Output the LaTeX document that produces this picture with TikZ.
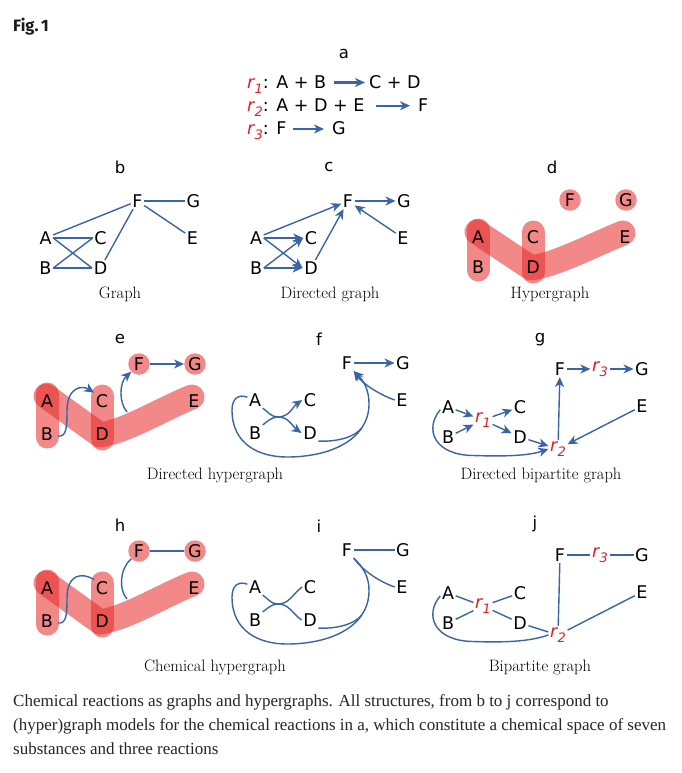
\documentclass[tikz,border=0pt]{standalone}
\usepackage{fontspec}
\usetikzlibrary{arrows.meta}
\newfontfamily\dvf{DejaVu Sans}
\newfontfamily\capf{Liberation Serif}
\newfontfamily\figf{Fira Sans}
\definecolor{eblue}{RGB}{58,100,168}
\definecolor{rred}{RGB}{230,30,35}
\definecolor{hred}{RGB}{232,40,40}
\newcommand\rlab[1]{\textcolor{rred}{\itshape r\kern0.3pt\raisebox{-0.28em}{\fontsize{13}{13}\selectfont #1}}}
\tikzset{
 lbl/.style={font={\dvf\fontsize{17.5}{17.5}\selectfont}, inner sep=1.5pt, text=black},
 rx/.style={font={\dvf\fontsize{17.5}{17.5}\selectfont}, inner sep=0pt, anchor=base west},
 plab/.style={font={\dvf\fontsize{16.5}{17}\selectfont}, inner sep=0pt, anchor=base},
 gcap/.style={font={\fontsize{16.5}{17}\selectfont}, inner sep=0pt, anchor=base},
 ctext/.style={font={\capf\fontsize{17}{17}\selectfont}, inner sep=0pt, anchor=base west, text=black!85},
 edge/.style={draw=eblue, line width=1.4pt},
 arr/.style={edge, -{Stealth[length=10pt,width=9pt,inset=3pt]}},
 rarr/.style={draw=eblue, line width=2.2pt, -{Stealth[length=10pt,width=9pt,inset=3pt]}},
 band/.style={draw=hred, draw opacity=0.55, line width=23pt, line cap=round, line join=round},
 hnode/.style={circle, fill=hred, fill opacity=0.55, text opacity=1, minimum size=21.5pt, inner sep=0pt},
}
\newcommand\stdnodes[3]{%
  \node[lbl] (#1A) at (0,0) {A};
  \node[lbl] (#1B) at (0,#3) {B};
  \node[lbl] (#1C) at (55,0) {C};
  \node[lbl] (#1D) at (55,#3) {D};
  \node[lbl] (#1E) at (147,0) {E};
  \node[lbl,#2] (#1F) at (92,-37) {F};
  \node[lbl,#2] (#1G) at (148,-37) {G};}
\newcommand\hblobs[1]{%
  \draw[band] (0,-7) -- (0,#1+3);
  \draw[band] (55,-5) -- (55,#1+5);
  \draw[band, line width=25pt] (-1,-5) -- (53,#1+1) .. controls (80,#1-3) and (115,8) .. (145,-4);}
\newcommand\bipnodes[1]{%
  \node[lbl] (#1A) at (0,0) {A};
  \node[lbl] (#1B) at (0,30) {B};
  \node[lbl] (#1C) at (72,0) {C};
  \node[lbl] (#1D) at (72,30) {D};
  \node[lbl] (#1E) at (194,-1) {E};
  \node[lbl] (#1F) at (112,-38) {F};
  \node[lbl] (#1G) at (194,-38) {G};
  \node[lbl] (#1r1) at (35,13) {\rlab{1}};
  \node[lbl] (#1r2) at (110,42) {\rlab{2}};
  \node[lbl] (#1r3) at (152,-38) {\rlab{3}};}
\newcommand\bipedges[2]{%
  \draw[#2] (#1A) -- (#1r1);
  \draw[#2] (#1B) -- (#1r1);
  \draw[#2] (#1r1) -- (#1C);
  \draw[#2] (#1r1) -- (#1D);
  \draw[#2] (#1D) -- (#1r2);
  \draw[#2] (#1E) -- (#1r2);
  \draw[#2] (#1r2) -- (#1F);
  \draw[#2] (#1F) -- (#1r3);
  \draw[#2] (#1r3) -- (#1G);
  \draw[#2] (#1A.200) .. controls (-24,22) and (-14,48) .. (25,48.5) .. controls (55,49.5) and (80,49) .. (#1r2.west);}
\newcommand\fidrawing[2]{%
  \coordinate (#1m) at (23,17);
  \coordinate (#1j) at (106.8,27.9);
  \draw[#2] (#1A.south east) to[out=-35,in=180] (#1m) to[out=0,in=-145] (#1C.west);
  \draw[#2] (#1B.north east) to[out=35,in=180] (#1m) to[out=0,in=145] (#1D.west);
  \draw[#2] (#1F) -- (#1G);
  \draw[#2] (#1A.160) .. controls (-16,-6) and (-23,-2) .. (-23,10) .. controls (-23,45) and (5,57) .. (32,57) .. controls (75,57) and (113,40) .. (114,5) .. controls (114.5,-10) and (108,-20) .. (#1F.south east);
  \draw[edge] (#1D.south east) .. controls (82,42) and (100,37) .. (#1j);
  \draw[#2] (#1E.west) .. controls (125,-5) and (108,-16) .. (#1F.south east);}
\newcommand\ehdrawing[2]{%
  \coordinate (#1b) at (11,35);
  \coordinate (#1e) at (80,11);
  \draw[#2] (#1F) -- (#1G);
  \draw[#2] (#1b) .. controls (19,36) and (20,28) .. (20,10) .. controls (20,-14) and (35,-16) .. (#1C.north west);
  \draw[#2] (#1e) .. controls (72,2) and (72,-18) .. (#1F.south west);}

\begin{document}
\begin{tikzpicture}[x=1pt,y=-1pt]
\useasboundingbox (0,0) rectangle (682,773);
\fill[white] (0,0) rectangle (682,773);

% header
\node[font={\figf\bfseries\fontsize{16.5}{17}\selectfont}, inner sep=0pt, anchor=base west, text=black!90] (fig) at (13,32) {Fig.\,1};

% panel a
\node[plab] (la) at (344,59) {a};
\node[rx] (r1l) at (247,88.5) {\rlab{1}: A + B};
\node[rx] (r1r) at (369,88.5) {C + D};
\node[rx] (r2l) at (247,111.7) {\rlab{2}: A + D + E};
\node[rx] (r2r) at (418,111.7) {F};
\node[rx] (r3l) at (247,135) {\rlab{3}: F};
\node[rx] (r3r) at (332,135) {G};
\draw[rarr] ([xshift=8pt,yshift=6pt]r1l.base east) -- ([xshift=-4pt,yshift=6pt]r1r.base west);
\draw[rarr] ([xshift=11pt,yshift=6pt]r2l.base east) -- ([xshift=-8pt,yshift=6pt]r2r.base west);
\draw[rarr] ([xshift=6pt,yshift=6pt]r3l.base east) -- ([xshift=-8pt,yshift=6pt]r3r.base west);

% panel labels
\node[plab] (lb) at (120,173) {b};
\node[plab] (lc) at (329,171) {c};
\node[plab] (ld) at (552,173) {d};
\node[plab] (le) at (120,343) {e};
\node[plab] (lf) at (319,345) {f};
\node[plab] (lg) at (540,342) {g};
\node[plab] (lh) at (120,531) {h};
\node[plab] (li) at (319,532) {i};
\node[plab] (lj) at (535,528) {j};

% captions
\node[gcap] (cb) at (120,298) {Graph};
\node[gcap] (cc) at (330,298) {Directed graph};
\node[gcap] (cd) at (550,298) {Hypergraph};
\node[gcap] (ce) at (215,479.5) {Directed hypergraph};
\node[gcap] (cg) at (541,479.5) {Directed bipartite graph};
\node[gcap] (ch) at (215,671.5) {Chemical hypergraph};
\node[gcap] (cj) at (540,671.5) {Bipartite graph};

% b
\begin{scope}[shift={(45.5,238)}]
 \stdnodes{b}{}{30}
 \draw[edge] (bA) -- (bF);
 \draw[edge] (bF) -- (bG);
 \draw[edge] (bF) -- (bE);
 \draw[edge] (bF) -- (bD);
 \draw[edge] (bA.east) -- (bC.west);
 \draw[edge] (bA.east) -- (bD.west);
 \draw[edge] (bB.east) -- (bC.west);
 \draw[edge] (bB.east) -- (bD.west);
\end{scope}

% c
\begin{scope}[shift={(256,238)}]
 \stdnodes{c}{}{30}
 \draw[arr] (cA) -- (cF);
 \draw[arr] (cF) -- (cG);
 \draw[arr] (cE) -- (cF);
 \draw[arr] (cD) -- (cF);
 \draw[arr] (cA.east) -- (cC.west);
 \draw[arr] (cA.east) -- (cD.west);
 \draw[arr] (cB.east) -- (cC.west);
 \draw[arr] (cB.east) -- (cD.west);
\end{scope}

% d
\begin{scope}[shift={(478,237)}]
 \hblobs{30}
 \stdnodes{d}{hnode}{30}
\end{scope}

% e
\begin{scope}[shift={(47,401)}]
 \hblobs{33}
 \stdnodes{e}{hnode}{33}
 \ehdrawing{e}{arr}
\end{scope}

% f
\begin{scope}[shift={(255,400)}]
 \stdnodes{f}{}{33}
 \fidrawing{f}{arr}
\end{scope}

% g
\begin{scope}[shift={(448,407)}]
 \bipnodes{g}
 \bipedges{g}{arr}
\end{scope}

% h
\begin{scope}[shift={(47,588)}]
 \hblobs{33}
 \stdnodes{h}{hnode}{33}
 \ehdrawing{h}{edge}
\end{scope}

% i
\begin{scope}[shift={(255,587)}]
 \stdnodes{i}{}{33}
 \fidrawing{i}{edge}
\end{scope}

% j
\begin{scope}[shift={(448,593)}]
 \bipnodes{j}
 \bipedges{j}{edge}
\end{scope}

% figure caption
\node[ctext] (t1) at (13,706) {Chemical reactions as graphs and hypergraphs. All structures, from b to j correspond to};
\node[ctext] (t2) at (13,730) {(hyper)graph models for the chemical reactions in a, which constitute a chemical space of seven};
\node[ctext] (t3) at (13,754) {substances and three reactions};
\end{tikzpicture}
\end{document}
